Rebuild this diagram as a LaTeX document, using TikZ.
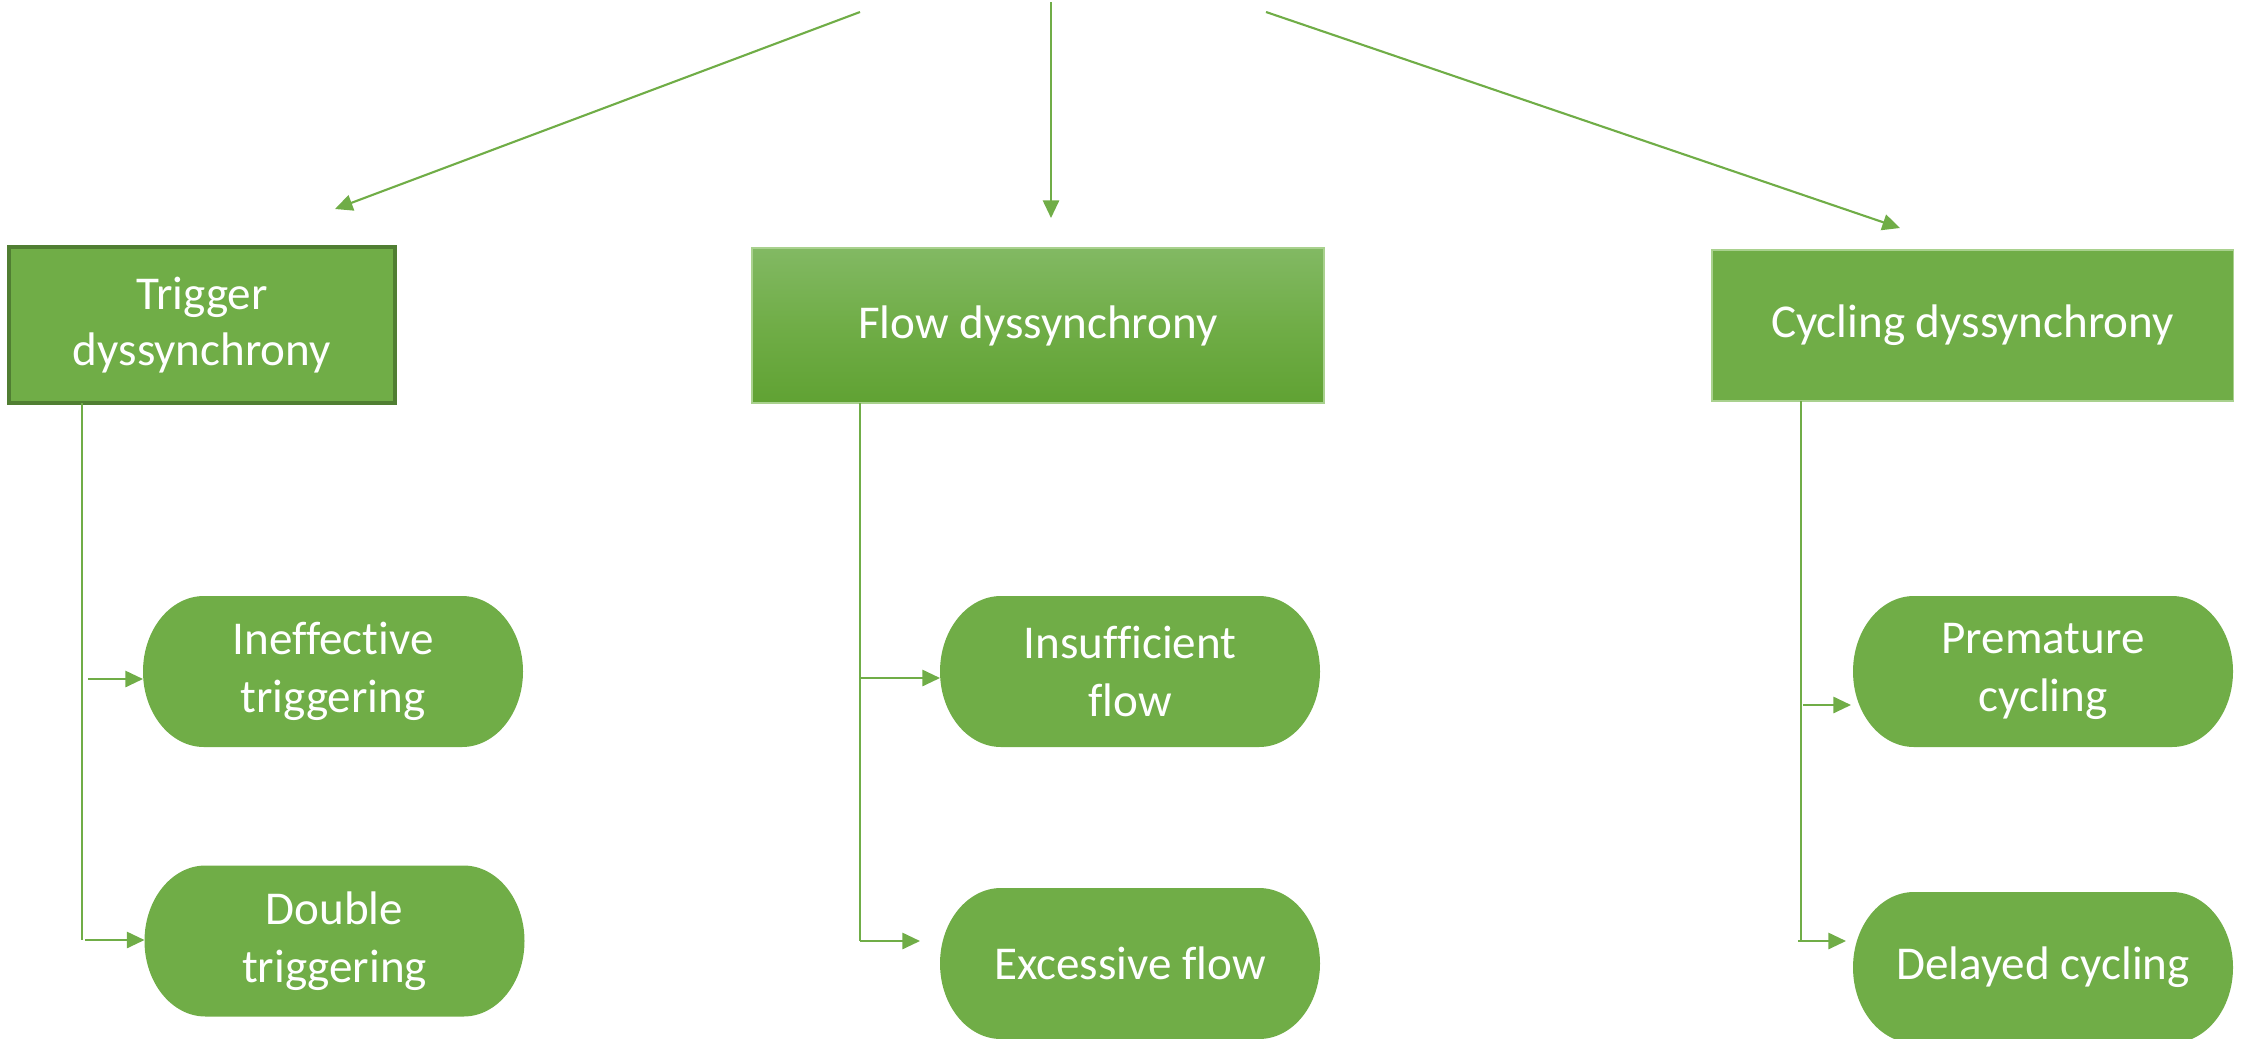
\documentclass[tikz,border=0pt]{standalone}
\usepackage{fontspec}
\setmainfont{Carlito}[Ligatures={NoCommon}]
\usetikzlibrary{arrows.meta}

\definecolor{boxgreen}{HTML}{70AD47}
\definecolor{edgegreen}{HTML}{507E32}
\definecolor{litegreen}{HTML}{A9D18E}
\definecolor{flowtop}{HTML}{82B963}
\definecolor{flowbot}{HTML}{60A233}

\tikzset{
  topbox/.style={rectangle, fill=boxgreen, draw=litegreen, line width=0.3pt, text=white,
    align=center, inner sep=0pt, outer sep=0pt, font=\fontsize{13.4}{16}\selectfont},
  pill/.style={rectangle, minimum width=3.8cm, minimum height=1.51cm, inner sep=0pt,
    outer sep=0pt, text=white, align=center, font=\fontsize{13.4}{16.5}\selectfont,
    path picture={\fill[boxgreen] ([xshift=0.61cm]path picture bounding box.north west)
      -- ([xshift=-0.61cm]path picture bounding box.north east)
      arc[start angle=90, end angle=-90, x radius=0.61cm, y radius=0.755cm]
      -- ([xshift=0.61cm]path picture bounding box.south west)
      arc[start angle=270, end angle=90, x radius=0.61cm, y radius=0.755cm] -- cycle;}},
  arr/.style={draw=boxgreen, line width=0.6pt, -{Triangle[length=5pt, width=4.6pt]}},
  vline/.style={draw=boxgreen, line width=0.45pt}
}

\begin{document}
\begin{tikzpicture}
\useasboundingbox (0,0) rectangle (22.46,10.38);

%top boxes
\node[topbox, draw=edgegreen, line width=0.9pt, minimum width=3.86cm, minimum height=1.56cm] (trig) at (2.02,7.13) {Trigger\\dyssynchrony};
\node[topbox, top color=flowtop, bottom color=flowbot, middle color=boxgreen, minimum width=5.72cm, minimum height=1.55cm] (flow) at (10.38,7.125) {Flow dyssynchrony};
\node[topbox, minimum width=5.21cm, minimum height=1.51cm] (cyc) at (19.725,7.125) {Cycling dyssynchrony};

%arrows from above
\coordinate (src-l) at (8.60,10.26);
\coordinate (src-c) at (10.51,10.36);
\coordinate (src-r) at (12.66,10.26);
\coordinate (tip-l) at (3.35,8.29);
\coordinate (tip-c) at (10.51,8.20);
\coordinate (tip-r) at (19.00,8.10);
\draw[arr] (src-l) -- (tip-l);
\draw[arr] (src-c) -- (tip-c);
\draw[arr] (src-r) -- (tip-r);

%trigger branch
\node[pill] (ineff) at (3.33,3.665) {Ineffective\\triggering};
\node[pill] (double) at (3.345,0.97) {Double\\triggering};
\coordinate (trig-end) at (0.82,0.98);
\coordinate (trig-a1) at (0.88,3.59);
\coordinate (trig-a2) at (0.85,0.98);
\draw[vline] (trig.south -| trig-end) -- (trig-end);
\draw[arr] (trig-a1) -- (trig-a1 -| ineff.west);
\draw[arr] (trig-a2) -- (trig-a2 -| double.west);

%flow branch
\node[pill] (insuff) at (11.30,3.665) {Insufficient\\flow};
\node[pill] (excess) at (11.30,0.745) {Excessive flow};
\coordinate (flow-end) at (8.60,0.97);
\coordinate (flow-a1) at (8.60,3.60);
\coordinate (flow-tip) at (9.20,0.97);
\draw[vline] (flow.south -| flow-end) -- (flow-end);
\draw[arr] (flow-a1) -- (flow-a1 -| insuff.west);
\draw[arr] (flow-end) -- (flow-tip);

%cycling branch
\node[pill] (premat) at (20.43,3.665) {Premature\\cycling};
\node[pill] (delay) at (20.43,0.705) {Delayed cycling};
\coordinate (cyc-end) at (18.01,0.97);
\coordinate (cyc-a1) at (18.03,3.33);
\coordinate (cyc-a2) at (17.98,0.97);
\draw[vline] (cyc.south -| cyc-end) -- (cyc-end);
\draw[arr] (cyc-a1) -- (18.51,3.33);
\draw[arr] (cyc-a2) -- (18.46,0.97);
\end{tikzpicture}
\end{document}
